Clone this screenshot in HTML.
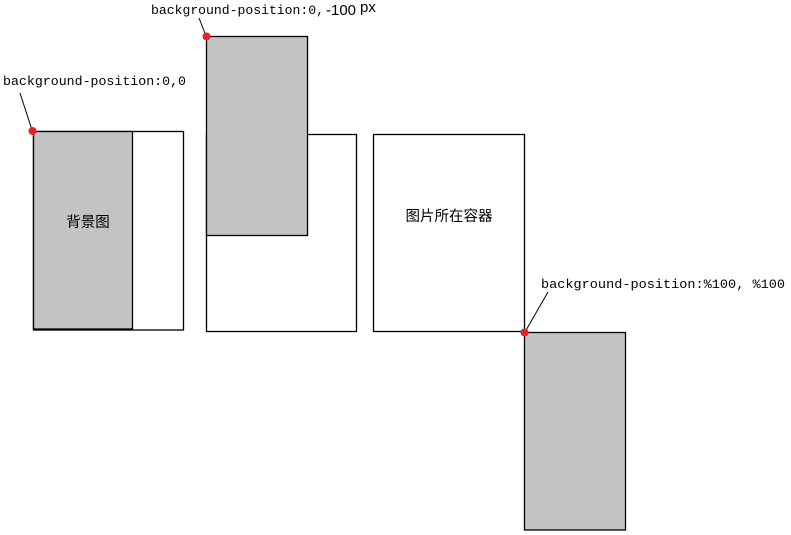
<!DOCTYPE html>
<html><head><meta charset="utf-8"><style>
html,body{margin:0;padding:0;background:#fff;width:791px;height:535px;overflow:hidden}
svg{display:block}
.m{font-family:"Liberation Mono","DejaVu Sans Mono",monospace;font-size:13.3px;fill:#000}
.c{font-family:"Liberation Sans","Noto Sans CJK SC",sans-serif;font-size:14.5px;fill:#000}
.s{font-family:"Liberation Sans",sans-serif;font-size:15px;fill:#000}
</style></head><body>
<svg width="791" height="535" viewBox="0 0 791 535" xmlns="http://www.w3.org/2000/svg">
<g stroke="#000" stroke-width="1.3" fill="none">
<rect x="33.5" y="131.5" width="150" height="198.5" fill="#fff"/>
<rect x="33.5" y="131.5" width="99" height="197.5" fill="#c3c3c3"/>
<line x1="33" y1="329.5" x2="133" y2="329.5" stroke-width="2"/>
<rect x="206.5" y="134.5" width="150" height="197" fill="#fff"/>
<rect x="206.5" y="36.5" width="101" height="199" fill="#c3c3c3"/>
<rect x="373.5" y="134.5" width="151" height="197" fill="#fff"/>
<rect x="524.5" y="332.5" width="101" height="197.5" fill="#c3c3c3"/>
<line x1="20" y1="93" x2="32" y2="130" stroke-width="1"/>
<line x1="199" y1="18" x2="206" y2="36" stroke-width="1"/>
<line x1="548" y1="292" x2="525" y2="332" stroke-width="1"/>
</g>
<circle cx="32.5" cy="131" r="4" fill="#e8202a"/>
<circle cx="206.5" cy="36.5" r="4" fill="#e8202a"/>
<circle cx="524.5" cy="332.5" r="4" fill="#e8202a"/>
<text class="m" x="3" y="85" textLength="183" lengthAdjust="spacingAndGlyphs">background-position:0,0</text>
<text class="m" x="151" y="14" textLength="173" lengthAdjust="spacingAndGlyphs">background-position:0,</text>
<text class="s" x="326" y="15">-100</text>
<text class="s" x="360" y="12">px</text>
<text class="m" x="541" y="288" textLength="244" lengthAdjust="spacingAndGlyphs">background-position:%100, %100</text>
<text class="c" x="88" y="227" text-anchor="middle">背景图</text>
<text class="c" x="449" y="221" text-anchor="middle">图片所在容器</text>
</svg>
</body></html>
